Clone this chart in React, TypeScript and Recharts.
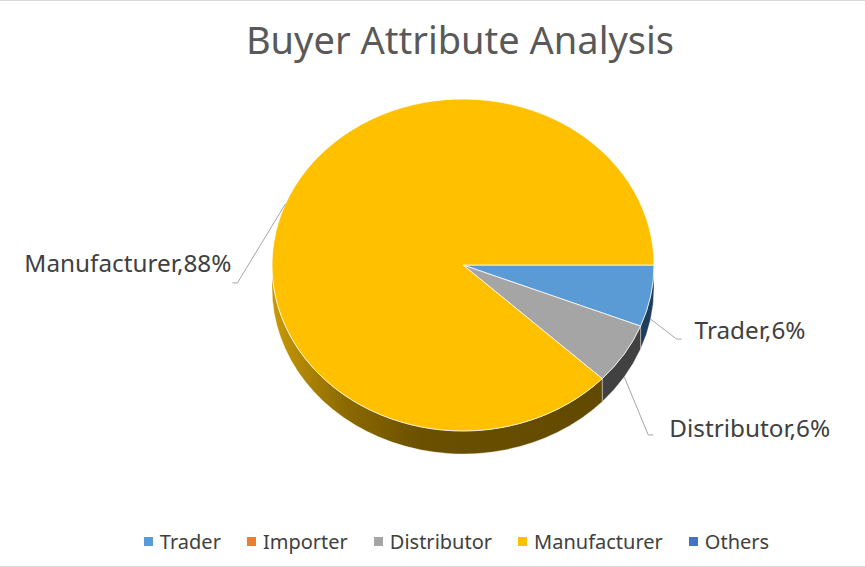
import React from "react";
import { PieChart, Pie, Cell, Legend } from "recharts";

// buyer types and their share (%)
const categories = ["Trader", "Importer", "Distributor", "Manufacturer", "Others"];
const shares = [6, 0, 6, 88, 0];

const topColors = ["#5B9BD5", "#ED7D31", "#A5A5A5", "#FFC000", "#4472C4"];
const sideColors = ["#1F3D5E", "#8A4413", "#414141", "url(#mfgSide)", "#203864"];

const data = categories.map((name, i) => ({ name, value: shares[i] }));

// fake 3D look: squash the circle a bit and give it a rim
const RATIO = 166 / 191;
const DEPTH = 23;
const RAD = Math.PI / 180;
const FONT = "'Noto Sans', 'Open Sans', sans-serif";

// where the leader line bends, and where the text sits (relative to the bend)
const labelLayout: Record<string, { dx: number; dy: number; tx: number; ty: number }> = {
  Trader: { dx: 26, dy: 20, tx: 13, ty: -10 },
  Distributor: { dx: 24, dy: 58, tx: 16, ty: -7 },
  Manufacturer: { dx: -48, dy: 79, tx: -1, ty: -20 },
};

const pt = (cx: number, cy: number, rx: number, ry: number, deg: number) => [
  cx + rx * Math.cos(deg * RAD),
  cy - ry * Math.sin(deg * RAD),
];

const TopSector = (props: any) => {
  const { cx, cy, outerRadius, startAngle, endAngle, fill } = props;
  if (Math.abs(endAngle - startAngle) < 0.01) return <g />;
  const rx = outerRadius;
  const ry = outerRadius * RATIO;
  const [x1, y1] = pt(cx, cy, rx, ry, startAngle);
  const [x2, y2] = pt(cx, cy, rx, ry, endAngle);
  const large = Math.abs(endAngle - startAngle) > 180 ? 1 : 0;
  const sweep = endAngle < startAngle ? 1 : 0;
  return (
    <path
      d={`M${cx},${cy} L${x1},${y1} A${rx},${ry} 0 ${large} ${sweep} ${x2},${y2} Z`}
      fill={fill}
      stroke="#ffffff"
      strokeWidth={0.75}
      strokeLinejoin="round"
    />
  );
};

const SideSector = (props: any) => {
  const { cx, cy, outerRadius, startAngle, endAngle, fill } = props;
  // only the front half (0 .. -180) of the rim is visible
  const a = Math.min(startAngle, 0);
  const b = Math.max(endAngle, -180);
  if (a - b < 0.01) return <g />;
  const rx = outerRadius;
  const ry = outerRadius * RATIO;
  const [x1, y1] = pt(cx, cy, rx, ry, a);
  const [x2, y2] = pt(cx, cy, rx, ry, b);
  return (
    <g>
      <defs>
        <linearGradient id="mfgSide" x1="0" y1="0" x2="1" y2="0">
          <stop offset="0%" stopColor="#C99A05" />
          <stop offset="22%" stopColor="#8C6A00" />
          <stop offset="45%" stopColor="#6B5000" />
          <stop offset="100%" stopColor="#614900" />
        </linearGradient>
      </defs>
      <path
        d={`M${x1},${y1} A${rx},${ry} 0 0 1 ${x2},${y2} L${x2},${y2 + DEPTH} A${rx},${ry} 0 0 0 ${x1},${y1 + DEPTH} Z`}
        fill={fill}
        stroke="#ffffff"
        strokeOpacity={0.6}
        strokeWidth={0.6}
      />
    </g>
  );
};

const renderLabel = (props: any) => {
  const { cx, cy, midAngle, outerRadius, percent, index } = props;
  const name = categories[index];
  const lay = labelLayout[name];
  if (!lay || shares[index] === 0) return null;
  const rx = outerRadius;
  const ry = outerRadius * RATIO;
  let [ax, ay] = pt(cx, cy, rx, ry, midAngle);
  if (Math.sin(midAngle * RAD) < 0) ay += DEPTH;
  const bx = ax + lay.dx;
  const by = ay + lay.dy;
  const right = lay.dx > 0;
  const tailX = bx + (right ? 5 : -5);
  return (
    <g>
      <polyline
        points={`${ax},${ay} ${bx},${by} ${tailX},${by}`}
        fill="none"
        stroke="#A6A6A6"
        strokeWidth={1}
      />
      <text
        x={tailX + lay.tx}
        y={by + lay.ty}
        textAnchor={right ? "start" : "end"}
        dominantBaseline="central"
        fontFamily={FONT}
        fontSize={24.3}
        fill="#404040"
      >
        {`${name},${Math.round(percent * 100)}%`}
      </text>
    </g>
  );
};

const renderLegend = () => (
  <div
    style={{
      display: "flex",
      justifyContent: "center",
      alignItems: "center",
      gap: 26,
      paddingLeft: 48,
      fontFamily: FONT,
      fontSize: 20,
      color: "#404040",
    }}
  >
    {categories.map((name, i) => (
      <div key={name} style={{ display: "flex", alignItems: "center", gap: 7 }}>
        <span style={{ width: 9, height: 9, background: topColors[i], display: "inline-block" }} />
        <span>{name}</span>
      </div>
    ))}
  </div>
);

export default function App() {
  return (
    <div
      style={{
        position: "absolute",
        left: 0,
        top: 0,
        width: 865,
        height: 567,
        background: "#fff",
        borderTop: "1px solid #D9D9D9",
        borderBottom: "1px solid #D9D9D9",
        boxSizing: "border-box",
      }}
    >
      <div
        style={{
          position: "absolute",
          left: 0,
          top: 12,
          width: 920,
          textAlign: "center",
          fontFamily: FONT,
          fontSize: 38,
          color: "#595959",
        }}
      >
        Buyer Attribute Analysis
      </div>
      <div style={{ position: "absolute", left: 0, top: -1 }}>
        <PieChart width={865} height={567} margin={{ top: 0, right: 0, bottom: 0, left: 0 }}>
          <Pie
            data={data}
            dataKey="value"
            nameKey="name"
            cx={463}
            cy={265}
            outerRadius={191}
            startAngle={0}
            endAngle={-360}
            stroke="none"
            shape={SideSector}
            isAnimationActive={false}
            legendType="square"
          >
            {data.map((d, i) => (
              <Cell key={d.name} fill={sideColors[i]} />
            ))}
          </Pie>
          <Pie
            data={data}
            dataKey="value"
            nameKey="name"
            cx={463}
            cy={265}
            outerRadius={191}
            startAngle={0}
            endAngle={-360}
            shape={TopSector}
            label={renderLabel}
            labelLine={false}
            isAnimationActive={false}
          >
            {data.map((d, i) => (
              <Cell key={d.name} fill={topColors[i]} />
            ))}
          </Pie>
          <Legend
            verticalAlign="bottom"
            content={renderLegend}
            wrapperStyle={{ left: 0, top: 528, width: 865, height: 28 }}
          />
        </PieChart>
      </div>
    </div>
  );
}
